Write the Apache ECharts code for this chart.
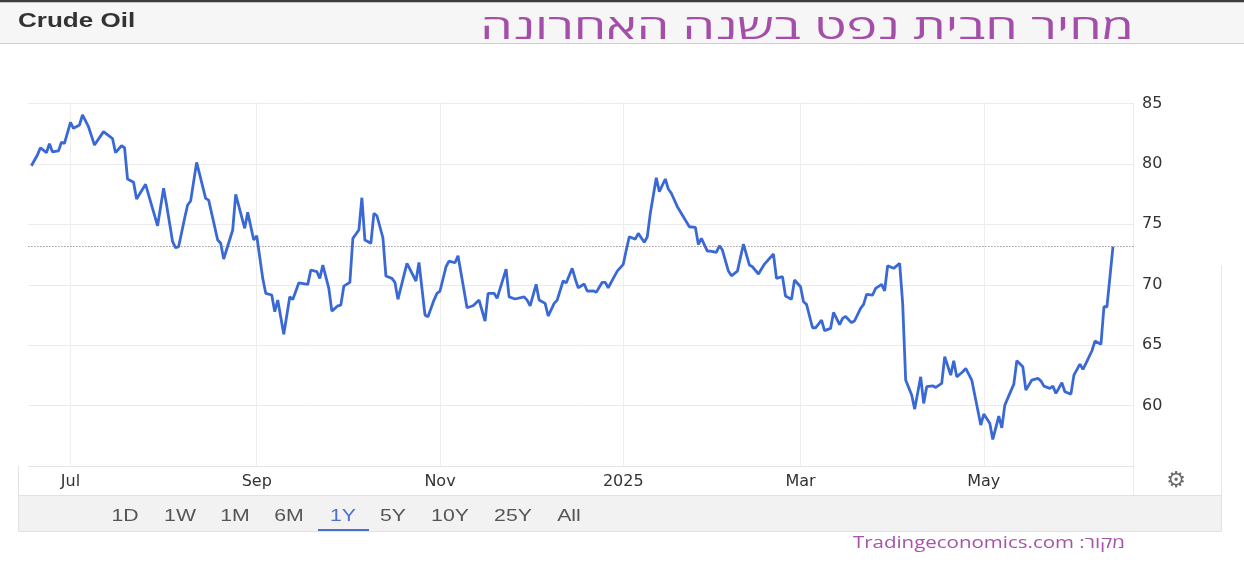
<!DOCTYPE html>
<html>
<head>
<meta charset="utf-8">
<script src="https://cdn.jsdelivr.net/npm/echarts@6/dist/echarts.min.js"></script>
<style>
  html, body { margin: 0; padding: 0; background: #ffffff; }
  #chart { width: 1244px; height: 566px; }
</style>
</head>
<body>
<div id="chart"></div>
<script>
// ---- data ----
const chartName = 'Crude Oil';
const titleText = 'מחיר חבית נפט בשנה האחרונה';
const sourceText = 'Tradingeconomics.com :מקור';
const rangeButtons = ['1D', '1W', '1M', '6M', '1Y', '5Y', '10Y', '25Y', 'All'];
const activeButton = '1Y';
const monthNames = ['Jan','Feb','Mar','Apr','May','Jun','Jul','Aug','Sep','Oct','Nov','Dec'];
const xTickDates = ['2024-07-01', '2024-09-01', '2024-11-01', '2025-01-01', '2025-03-01', '2025-05-01'];
const xRange = ['2024-06-17', '2025-06-20'];
const yTicks = [55, 60, 65, 70, 75, 80, 85];

const dates = [
'2024-06-18','2024-06-20','2024-06-21','2024-06-23','2024-06-24','2024-06-25','2024-06-27','2024-06-28','2024-06-29',
'2024-07-01','2024-07-02','2024-07-04','2024-07-05','2024-07-07','2024-07-09','2024-07-12','2024-07-15','2024-07-16',
'2024-07-18','2024-07-19','2024-07-20','2024-07-22','2024-07-23','2024-07-26','2024-07-30',
'2024-08-01','2024-08-02','2024-08-04','2024-08-05','2024-08-06','2024-08-08','2024-08-09','2024-08-10','2024-08-12',
'2024-08-15','2024-08-16','2024-08-19','2024-08-20','2024-08-21','2024-08-24','2024-08-25','2024-08-28','2024-08-29','2024-08-31',
'2024-09-01','2024-09-03','2024-09-04','2024-09-06','2024-09-07','2024-09-08','2024-09-10','2024-09-12','2024-09-13',
'2024-09-15','2024-09-18','2024-09-19','2024-09-21','2024-09-22','2024-09-23','2024-09-25','2024-09-26','2024-09-28',
'2024-09-29','2024-09-30',
'2024-10-02','2024-10-03','2024-10-05','2024-10-06','2024-10-07','2024-10-09','2024-10-10','2024-10-11','2024-10-13',
'2024-10-14','2024-10-16','2024-10-17','2024-10-18','2024-10-21','2024-10-24','2024-10-25','2024-10-27','2024-10-28',
'2024-10-30','2024-10-31',
'2024-11-01','2024-11-03','2024-11-04','2024-11-06','2024-11-07','2024-11-10','2024-11-12','2024-11-14','2024-11-16',
'2024-11-17','2024-11-19','2024-11-20','2024-11-23','2024-11-24','2024-11-26','2024-11-29','2024-11-30',
'2024-12-01','2024-12-03','2024-12-04','2024-12-06','2024-12-07','2024-12-09','2024-12-10','2024-12-12','2024-12-13',
'2024-12-15','2024-12-16','2024-12-17','2024-12-19','2024-12-20','2024-12-22','2024-12-23','2024-12-25','2024-12-26',
'2024-12-27','2024-12-29','2024-12-30',
'2025-01-01','2025-01-02','2025-01-03','2025-01-05','2025-01-06','2025-01-08','2025-01-09','2025-01-10','2025-01-12',
'2025-01-13','2025-01-15','2025-01-16','2025-01-17','2025-01-19','2025-01-21','2025-01-23','2025-01-25','2025-01-26',
'2025-01-27','2025-01-29','2025-01-30',
'2025-02-01','2025-02-02','2025-02-03','2025-02-05','2025-02-06','2025-02-08','2025-02-10','2025-02-12','2025-02-13',
'2025-02-15','2025-02-17','2025-02-20','2025-02-21','2025-02-23','2025-02-24','2025-02-26','2025-02-27',
'2025-03-01','2025-03-02','2025-03-03','2025-03-05','2025-03-06','2025-03-08','2025-03-09','2025-03-11','2025-03-12',
'2025-03-14','2025-03-15','2025-03-16','2025-03-18','2025-03-19','2025-03-21','2025-03-22','2025-03-23','2025-03-25',
'2025-03-26','2025-03-28','2025-03-29','2025-03-30',
'2025-04-01','2025-04-03','2025-04-04','2025-04-05','2025-04-07','2025-04-08','2025-04-10','2025-04-11','2025-04-12',
'2025-04-14','2025-04-15','2025-04-17','2025-04-18','2025-04-20','2025-04-21','2025-04-22','2025-04-24','2025-04-25',
'2025-04-27','2025-04-28','2025-04-30',
'2025-05-01','2025-05-03','2025-05-04','2025-05-06','2025-05-07','2025-05-08','2025-05-11','2025-05-12','2025-05-14',
'2025-05-15','2025-05-17','2025-05-19','2025-05-20','2025-05-21','2025-05-23','2025-05-24','2025-05-25','2025-05-27',
'2025-05-28','2025-05-30','2025-05-31',
'2025-06-02','2025-06-03','2025-06-04','2025-06-06','2025-06-07','2025-06-09','2025-06-10','2025-06-11','2025-06-13'
];

const prices = [
79.85,80.74,81.34,80.93,81.67,81.00,81.07,81.79,81.70,
83.44,82.95,83.22,84.05,83.08,81.56,82.67,82.10,80.93,
81.50,81.34,78.75,78.48,77.10,78.31,74.88,
77.98,76.60,73.56,73.06,73.15,75.50,76.60,76.93,80.13,
77.15,77.00,73.70,73.43,72.13,74.53,77.48,74.67,75.99,73.70,
74.06,70.53,69.29,69.15,67.77,68.73,65.90,69.00,68.78,
70.15,70.03,71.22,71.08,70.53,71.63,69.70,67.82,68.26,
68.32,69.89,
70.20,73.84,74.53,77.20,73.70,73.43,75.91,75.71,73.89,
70.72,70.53,70.20,68.79,71.77,70.31,71.85,67.50,67.35,
68.73,69.29,
69.48,71.49,71.96,71.82,72.40,68.10,68.26,68.73,67.00,
69.29,69.29,68.87,71.30,69.00,68.82,69.00,68.73,
68.26,70.03,68.73,68.46,67.41,68.46,68.73,70.33,70.15,
71.36,70.50,69.75,70.06,69.48,69.50,69.37,70.20,70.20,
69.75,70.67,71.13,
71.69,72.87,73.97,73.78,74.25,73.51,73.97,75.91,78.86,
77.70,78.75,77.92,77.57,76.46,75.63,74.80,74.75,73.34,
73.84,72.79,72.79,
72.68,73.23,72.87,71.13,70.74,71.13,73.37,71.63,71.49,
70.89,71.71,72.54,70.53,70.67,69.07,68.79,70.39,
69.83,68.59,68.38,66.44,66.44,67.08,66.20,66.39,67.71,
66.70,67.22,67.38,66.86,67.02,68.05,68.38,69.20,69.15,
69.70,70.03,69.50,71.57,
71.36,71.77,68.46,62.11,60.87,59.71,62.38,60.18,61.56,
61.64,61.50,61.84,64.04,62.52,63.71,62.38,62.80,63.08,
62.11,60.87,58.39,
59.30,58.53,57.20,59.13,58.16,60.04,61.78,63.71,63.21,
61.28,62.11,62.25,62.05,61.61,61.42,61.61,61.01,61.89,
61.14,60.95,62.52,
63.43,63.00,63.49,64.54,65.34,65.07,68.18,68.18,73.15
];

// ---- helpers ----
function toTime(s) {
  const p = s.split('-').map(Number);
  return Date.UTC(p[0], p[1] - 1, p[2]);
}

// ---- chart ----
const chart = echarts.init(document.getElementById('chart'), null, { renderer: 'canvas' });
const seriesData = dates.map((d, i) => [toTime(d), prices[i]]);
const lastPrice = prices[prices.length - 1];
const tickValues = xTickDates.map(toTime);

const axisFont = '"DejaVu Sans", "Liberation Sans", sans-serif';
const buttonX = [125, 180, 235, 289, 343, 393, 450, 513, 569];
const buttonGraphics = rangeButtons.map((b, i) => ({
  type: 'text', x: buttonX[i], y: 516, scaleX: 1.25, silent: true,
  style: {
    text: b, align: 'center', verticalAlign: 'middle',
    font: '17px "Liberation Sans", Arial, sans-serif',
    fill: b === activeButton ? '#4b6fcb' : '#555555'
  }
}));

const option = {
  backgroundColor: '#ffffff',
  animation: false,
  grid: { left: 28.4, right: 110, top: 103.5, bottom: 100, containLabel: false },
  xAxis: {
    type: 'value',
    min: toTime(xRange[0]),
    max: toTime(xRange[1]),
    axisLine: { show: true, lineStyle: { color: '#e4e4e4', width: 1 } },
    axisTick: { show: false, customValues: tickValues },
    axisLabel: {
      customValues: tickValues,
      color: '#333333',
      fontSize: 16,
      fontFamily: axisFont,
      margin: 8,
      formatter: function (val) {
        const d = new Date(val);
        return d.getUTCMonth() === 0 ? String(d.getUTCFullYear()) : monthNames[d.getUTCMonth()];
      }
    },
    splitLine: { show: true, lineStyle: { color: '#eeeeee', width: 1 } }
  },
  yAxis: {
    type: 'value',
    position: 'right',
    min: yTicks[0],
    max: yTicks[yTicks.length - 1],
    interval: 5,
    axisLine: { show: false },
    axisTick: { show: false },
    axisLabel: {
      showMinLabel: false,
      color: '#333333',
      fontSize: 16,
      fontFamily: axisFont,
      margin: 8
    },
    splitLine: { show: true, lineStyle: { color: '#ebebeb', width: 1 } }
  },
  series: [{
    type: 'line',
    data: seriesData,
    showSymbol: false,
    symbol: 'none',
    smooth: false,
    lineStyle: { color: '#3a69d6', width: 2.8 },
    markLine: {
      silent: true,
      symbol: ['none', 'none'],
      label: { show: false },
      lineStyle: { color: '#6f6f6f', type: [1, 2], width: 1 },
      data: [{ yAxis: lastPrice }]
    }
  }],
  graphic: [
    { type: 'rect', shape: { x: 0, y: 0, width: 1244, height: 43 }, style: { fill: '#f6f6f6' }, silent: true, z: -1 },
    { type: 'line', shape: { x1: 0, y1: 1, x2: 1244, y2: 1 }, style: { stroke: '#3d3d3d', lineWidth: 2.5 }, silent: true },
    { type: 'line', shape: { x1: 0, y1: 43.5, x2: 1244, y2: 43.5 }, style: { stroke: '#cdcdcd', lineWidth: 1 }, silent: true },
    { type: 'text', x: 18, y: 21, scaleX: 1.24, silent: true,
      style: { text: chartName, verticalAlign: 'middle', font: 'bold 21px "Liberation Sans", Arial, sans-serif', fill: '#333333' } },
    { type: 'text', x: 807, y: 29, scaleX: 1.52, silent: true,
      style: { text: titleText, align: 'center', verticalAlign: 'middle', font: '34px "Open Sans", "DejaVu Sans", sans-serif', fill: '#a44ea9' } },
    { type: 'rect', shape: { x: 18.5, y: 495.5, width: 1203, height: 36 }, style: { fill: '#f2f2f2', stroke: '#e2e2e2', lineWidth: 1 }, silent: true, z: -1 },
    { type: 'line', shape: { x1: 18.5, y1: 466, x2: 18.5, y2: 496 }, style: { stroke: '#e2e2e2', lineWidth: 1 }, silent: true },
    { type: 'line', shape: { x1: 1221.5, y1: 265, x2: 1221.5, y2: 496 }, style: { stroke: '#e6e6e6', lineWidth: 1 }, silent: true },
    { type: 'line', shape: { x1: 1133.5, y1: 103, x2: 1133.5, y2: 495 }, style: { stroke: '#ececec', lineWidth: 1 }, silent: true },
    { type: 'rect', shape: { x: 318, y: 529, width: 51, height: 2 }, style: { fill: '#4b6fcb' }, silent: true },
    { type: 'text', x: 1176, y: 481, silent: true,
      style: { text: '\u2699', align: 'center', verticalAlign: 'middle', font: '22px "DejaVu Sans", sans-serif', fill: '#6a6a6a' } },
    { type: 'text', x: 1125, y: 543, scaleX: 1.28, silent: true,
      style: { text: sourceText, align: 'right', verticalAlign: 'middle', font: '16px "Open Sans", "DejaVu Sans", sans-serif', fill: '#a752ab' } }
  ].concat(buttonGraphics)
};

chart.setOption(option);
</script>
</body>
</html>
